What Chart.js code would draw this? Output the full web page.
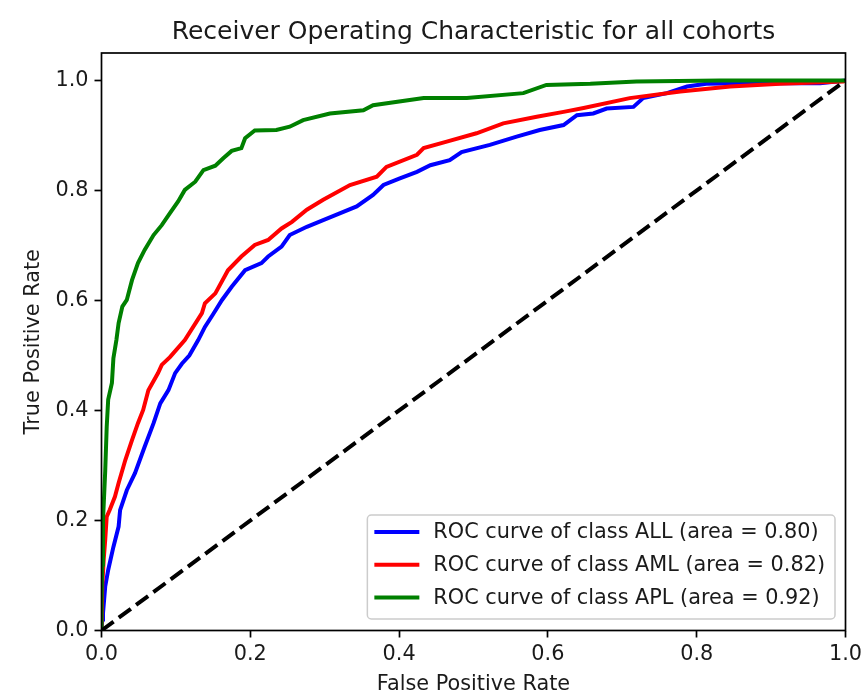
<!DOCTYPE html>
<html>
<head>
<meta charset="utf-8">
<title>ROC curves</title>
<script src="https://cdn.jsdelivr.net/npm/chart.js@4.4.1/dist/chart.umd.min.js"></script>
<style>
  html, body { margin: 0; padding: 0; background: #fff; }
</style>
</head>
<body>
<canvas id="roc-chart" width="861" height="697"></canvas>
<script>
"use strict";

// ROC points per class (false positive rate / true positive rate)
var allFpr = [0, 0.001, 0.002, 0.005, 0.009, 0.016, 0.023, 0.025, 0.034, 0.045, 0.058, 0.070, 0.079, 0.090, 0.099, 0.108, 0.118, 0.130, 0.139, 0.150, 0.162, 0.175, 0.193, 0.215, 0.224, 0.242, 0.253, 0.276, 0.298, 0.321, 0.343, 0.365, 0.379, 0.401, 0.424, 0.442, 0.468, 0.484, 0.522, 0.558, 0.589, 0.621, 0.639, 0.661, 0.679, 0.715, 0.728, 0.760, 0.787, 0.813, 0.867, 0.966, 1];
var allTpr = [0, 0.020, 0.031, 0.080, 0.110, 0.152, 0.189, 0.219, 0.255, 0.286, 0.334, 0.377, 0.413, 0.437, 0.468, 0.485, 0.500, 0.528, 0.552, 0.575, 0.601, 0.625, 0.655, 0.668, 0.680, 0.698, 0.719, 0.734, 0.746, 0.759, 0.771, 0.792, 0.810, 0.822, 0.834, 0.846, 0.855, 0.870, 0.883, 0.898, 0.910, 0.919, 0.937, 0.940, 0.949, 0.952, 0.968, 0.977, 0.989, 0.994, 0.995, 0.995, 1];

var amlFpr = [0, 0.001, 0.003, 0.005, 0.007, 0.011, 0.018, 0.023, 0.032, 0.041, 0.049, 0.056, 0.063, 0.076, 0.081, 0.092, 0.112, 0.135, 0.139, 0.153, 0.170, 0.188, 0.206, 0.224, 0.242, 0.256, 0.276, 0.298, 0.334, 0.370, 0.383, 0.424, 0.433, 0.464, 0.504, 0.540, 0.585, 0.621, 0.648, 0.710, 0.778, 0.845, 0.912, 0.997, 1];
var amlTpr = [0, 0.080, 0.130, 0.165, 0.207, 0.219, 0.243, 0.268, 0.310, 0.346, 0.377, 0.401, 0.437, 0.468, 0.483, 0.497, 0.528, 0.577, 0.595, 0.613, 0.655, 0.680, 0.701, 0.710, 0.731, 0.743, 0.765, 0.783, 0.810, 0.825, 0.843, 0.865, 0.877, 0.889, 0.904, 0.922, 0.934, 0.943, 0.950, 0.968, 0.980, 0.989, 0.994, 0.998, 1];

var aplFpr = [0, 0, 0.001, 0.002, 0.005, 0.007, 0.009, 0.014, 0.016, 0.020, 0.023, 0.028, 0.034, 0.041, 0.049, 0.058, 0.070, 0.081, 0.092, 0.103, 0.112, 0.126, 0.137, 0.153, 0.164, 0.175, 0.188, 0.193, 0.206, 0.235, 0.253, 0.271, 0.307, 0.352, 0.365, 0.433, 0.491, 0.567, 0.598, 0.657, 0.719, 0.831, 1];
var aplTpr = [0, 0.050, 0.120, 0.200, 0.290, 0.370, 0.420, 0.450, 0.495, 0.528, 0.559, 0.589, 0.601, 0.637, 0.668, 0.692, 0.719, 0.737, 0.759, 0.780, 0.801, 0.816, 0.837, 0.845, 0.859, 0.872, 0.877, 0.895, 0.909, 0.910, 0.916, 0.928, 0.940, 0.946, 0.955, 0.968, 0.968, 0.977, 0.992, 0.994, 0.998, 1, 1];

// chance line
var chanceFpr = [0, 1];
var chanceTpr = [0, 1];

var classNames = ["ALL", "AML", "APL"];
var classAreas = [0.80, 0.82, 0.92];
var classColors = ["blue", "red", "green"];

var xTicks = [0, 0.2, 0.4, 0.6, 0.8, 1.0];
var yTicks = [0, 0.2, 0.4, 0.6, 0.8, 1.0];

var FONT = "'DejaVu Sans', sans-serif";
var TEXT = "#1a1a1a";

function points(xs, ys) {
    return xs.map(function (x, i) { return {x: x, y: ys[i]}; });
}

var curves = [points(allFpr, allTpr), points(amlFpr, amlTpr), points(aplFpr, aplTpr)];

var datasets = curves.map(function (pts, i) {
    return {
        label: "ROC curve of class " + classNames[i] + " (area = " + classAreas[i].toFixed(2) + ")",
        data: pts,
        showLine: true,
        borderColor: classColors[i],
        backgroundColor: classColors[i],
        borderWidth: 4,
        pointRadius: 0,
        tension: 0,
        order: 3 - i
    };
});
datasets.push({
    label: "",
    data: points(chanceFpr, chanceTpr),
    showLine: true,
    borderColor: "#000",
    borderWidth: 4,
    borderDash: [15, 6.5],
    pointRadius: 0,
    order: 0
});

// axes box drawn above the curves
var frame = {
    id: "frame",
    afterDatasetsDraw: function (chart) {
        var a = chart.chartArea, ctx = chart.ctx;
        ctx.save();
        ctx.strokeStyle = "#000";
        ctx.lineWidth = 1.7;
        ctx.strokeRect(a.left, a.top, a.right - a.left, a.bottom - a.top);
        ctx.restore();
    }
};

// legend box in the lower right corner of the plot
var legendBox = {
    id: "legendBox",
    afterDraw: function (chart) {
        var a = chart.chartArea, ctx = chart.ctx;
        var items = chart.data.datasets.filter(function (d) { return d.label; });
        ctx.save();
        ctx.font = "20.8px " + FONT;
        var textW = Math.max.apply(null, items.map(function (d) { return ctx.measureText(d.label).width; }));
        var rowH = 32.7;
        var w = 7 + 45 + 14 + textW + 10;
        var h = 17 + rowH * (items.length - 1) + 21.5;
        var x = a.right - 10.5 - w;
        var y = a.bottom - 11.5 - h;

        ctx.beginPath();
        ctx.roundRect(x, y, w, h, 4);
        ctx.fillStyle = "rgba(255,255,255,0.8)";
        ctx.fill();
        ctx.strokeStyle = "#cccccc";
        ctx.lineWidth = 1.5;
        ctx.stroke();

        items.forEach(function (d, i) {
            var cy = y + 17 + i * rowH;
            ctx.beginPath();
            ctx.moveTo(x + 7, cy);
            ctx.lineTo(x + 52, cy);
            ctx.strokeStyle = d.borderColor;
            ctx.lineWidth = 4;
            ctx.stroke();
            ctx.fillStyle = TEXT;
            ctx.textBaseline = "middle";
            ctx.textAlign = "left";
            ctx.fillText(d.label, x + 66, cy + 1);
        });
        ctx.restore();
    }
};

var tickFont = {family: FONT, size: 20.8};

// let the end tick labels run past the canvas edge instead of shrinking the plot
function noEdgePadding(scale) {
    scale.paddingLeft = 0;
    scale.paddingRight = 0;
    scale.paddingTop = 0;
    scale.paddingBottom = 0;
}

new Chart(document.getElementById("roc-chart").getContext("2d"), {
    type: "scatter",
    data: {datasets: datasets},
    options: {
        responsive: false,
        animation: false,
        layout: {padding: {left: 0, right: 15.5, top: 0, bottom: 0}},
        plugins: {
            legend: {display: false},
            tooltip: {enabled: false},
            title: {
                display: true,
                fullSize: false,
                text: "Receiver Operating Characteristic for all cohorts",
                color: TEXT,
                font: {family: FONT, size: 25, weight: "normal"},
                padding: {top: 17, bottom: 6}
            }
        },
        scales: {
            x: {
                type: "linear",
                min: 0,
                max: 1,
                afterBuildTicks: function (scale) {
                    scale.ticks = xTicks.map(function (v) { return {value: v}; });
                },
                afterFit: function (scale) {
                    scale.height = 66.5;
                    noEdgePadding(scale);
                },
                ticks: {
                    color: TEXT,
                    font: tickFont,
                    padding: 5,
                    maxRotation: 0,
                    callback: function (v) { return Number(v).toFixed(1); }
                },
                grid: {drawOnChartArea: false, drawTicks: true, tickLength: 7, tickWidth: 1.7, tickColor: "#000"},
                border: {display: false},
                title: {display: true, text: "False Positive Rate", color: TEXT, font: tickFont, padding: {top: 4, bottom: 0}}
            },
            y: {
                type: "linear",
                min: 0,
                max: 1.05,
                afterBuildTicks: function (scale) {
                    scale.ticks = yTicks.map(function (v) { return {value: v}; });
                },
                afterFit: function (scale) {
                    scale.width = 101.5;
                    noEdgePadding(scale);
                },
                ticks: {
                    color: TEXT,
                    font: tickFont,
                    padding: 6,
                    callback: function (v) { return Number(v).toFixed(1); }
                },
                grid: {drawOnChartArea: false, drawTicks: true, tickLength: 7, tickWidth: 1.7, tickColor: "#000"},
                border: {display: false},
                title: {display: true, text: "True Positive Rate", color: TEXT, font: tickFont, padding: {top: 21.5, bottom: 0}}
            }
        }
    },
    plugins: [frame, legendBox]
});
</script>
</body>
</html>
